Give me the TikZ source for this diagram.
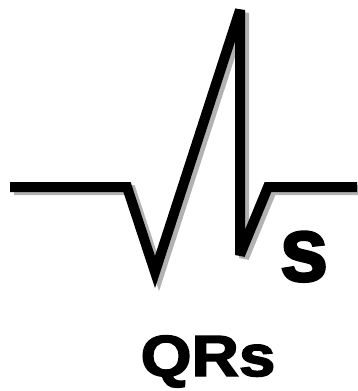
\documentclass[tikz,border=0pt]{standalone}
\usepackage{fontspec}
\setsansfont{Liberation Sans}
\newfontfamily\heavyfont[FakeBold=2.5]{Liberation Sans Bold}
\usetikzlibrary{positioning}

\def\qrscurve{(10,187) -- (127,187) -- (155,272) -- (240,10) -- (240,255) -- (268,187) -- (357,187)}

\begin{document}
\begin{tikzpicture}[
    x=1pt, y=-1pt,
    wave/.style={line width=10pt, line join=miter, miter limit=4},
    label/.style={inner sep=0pt, anchor=base, transform shape},
]
\useasboundingbox (0,0) rectangle (357,391);

% Schatten
\draw[wave, gray!60, shift={(4,3)}] \qrscurve;
% QRS-Komplex
\draw[wave, black] \qrscurve;

% Beschriftung
\node[label, font=\heavyfont\fontsize{92}{92}\selectfont, xscale=0.95] (swave) at (304,281) {s};
\node[label, font=\heavyfont\fontsize{58}{58}\selectfont, xscale=1.13] (title) at (208,376) {QRs};

\end{tikzpicture}
\end{document}
